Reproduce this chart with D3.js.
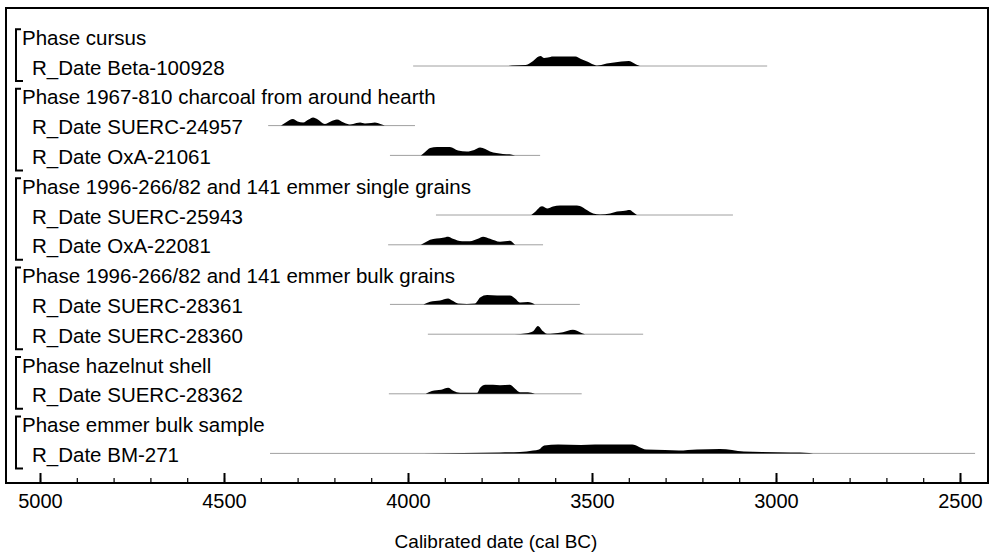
<!DOCTYPE html>
<html>
<head>
<meta charset="utf-8">
<script src="https://cdn.jsdelivr.net/npm/d3@7"></script>
<style>
	body { margin: 0; background: #fff; }
	text { font-family: "Liberation Sans", Arial, sans-serif; fill: #000; }
</style>
</head>
<body>
<div id="svg"></div>
<script>
// ------------------------------------------------------
// Size of the page
const width = 990
const height = 556

// ------------------------------------------------------
// Data

// Row labels, top to bottom
const labels = [
	'Phase cursus',
	'R_Date Beta-100928',
	'Phase 1967-810 charcoal from around hearth',
	'R_Date SUERC-24957',
	'R_Date OxA-21061',
	'Phase 1996-266/82 and 141 emmer single grains',
	'R_Date SUERC-25943',
	'R_Date OxA-22081',
	'Phase 1996-266/82 and 141 emmer bulk grains',
	'R_Date SUERC-28361',
	'R_Date SUERC-28360',
	'Phase hazelnut shell',
	'R_Date SUERC-28362',
	'Phase emmer bulk sample',
	'R_Date BM-271'
]

// Which rows start a phase, and the last row each phase covers
const phaseStarts = [0, 2, 5, 8, 11, 13]
const phaseEnds = [1, 4, 7, 10, 12, 14]

// Extent of the unmodelled likelihood (cal BC) for each R_Date row
const likelihoodRanges = [
	[1, 3986, 3024],
	[3, 4380, 3981],
	[4, 4049, 3641],
	[6, 3924, 3117],
	[7, 4054, 3633],
	[9, 4049, 3533],
	[10, 3946, 3361],
	[12, 4052, 3528],
	[14, 4375, 2459]
]

// Posterior distributions: [cal BC, relative probability]
const beta100928 = [[3730, 0], [3717, 0.05], [3680, 0.1], [3660, 0.5], [3645, 0.95], [3640, 1.0], [3630, 0.8], [3620, 0.85], [3606, 0.95], [3575, 0.95], [3545, 0.95], [3530, 0.7], [3510, 0.4], [3500, 0.2], [3485, 0.05], [3475, 0.1], [3460, 0.25], [3440, 0.35], [3420, 0.45], [3400, 0.5], [3392, 0.4], [3380, 0.15], [3370, 0]]
const suerc24957 = [[4345, 0], [4330, 0.35], [4313, 0.65], [4300, 0.4], [4285, 0.3], [4270, 0.6], [4258, 0.8], [4245, 0.6], [4226, 0.15], [4210, 0.4], [4193, 0.6], [4175, 0.3], [4158, 0.1], [4140, 0.25], [4130, 0.3], [4117, 0.2], [4100, 0.25], [4090, 0.3], [4075, 0.15], [4063, 0]]
const oxa21061 = [[3965, 0], [3955, 0.3], [3940, 0.75], [3921, 0.85], [3900, 0.85], [3886, 0.85], [3864, 0.5], [3840, 0.4], [3820, 0.55], [3804, 0.8], [3790, 0.65], [3777, 0.4], [3760, 0.25], [3742, 0.15], [3720, 0.1], [3709, 0]]
const suerc25943 = [[3665, 0], [3655, 0.3], [3636, 0.87], [3622, 0.65], [3606, 0.85], [3587, 0.95], [3541, 0.95], [3533, 0.9], [3514, 0.5], [3497, 0.15], [3478, 0.05], [3451, 0.15], [3432, 0.35], [3416, 0.4], [3397, 0.5], [3389, 0.3], [3378, 0]]
const oxa22081 = [[3965, 0], [3950, 0.3], [3940, 0.5], [3905, 0.7], [3891, 0.8], [3878, 0.6], [3853, 0.35], [3832, 0.35], [3810, 0.6], [3796, 0.8], [3777, 0.6], [3750, 0.3], [3723, 0.4], [3712, 0.1], [3709, 0]]
const suerc28361 = [[3958, 0], [3940, 0.27], [3913, 0.4], [3891, 0.6], [3880, 0.4], [3864, 0.1], [3840, 0.05], [3818, 0.1], [3804, 0.7], [3785, 0.95], [3758, 0.9], [3723, 0.9], [3709, 0.6], [3696, 0.2], [3674, 0.25], [3655, 0]]
const suerc28360 = [[3710, 0], [3677, 0.1], [3660, 0.3], [3647, 0.83], [3633, 0.3], [3622, 0.05], [3606, 0.08], [3579, 0.2], [3552, 0.45], [3541, 0.35], [3527, 0.1], [3519, 0]]
const suerc28362 = [[3952, 0], [3935, 0.27], [3910, 0.4], [3891, 0.6], [3877, 0.3], [3858, 0.1], [3812, 0.1], [3804, 0.6], [3790, 0.9], [3769, 0.9], [3750, 0.85], [3723, 0.9], [3709, 0.5], [3696, 0.15], [3674, 0.15], [3655, 0]]
const bm271 = [[3960, 0], [3850, 0.05], [3750, 0.1], [3696, 0.15], [3660, 0.3], [3644, 0.4], [3630, 0.8], [3592, 0.9], [3530, 0.85], [3492, 0.9], [3391, 0.9], [3353, 0.4], [3302, 0.35], [3264, 0.3], [3215, 0.4], [3152, 0.45], [3087, 0.2], [3038, 0.15], [2960, 0.08], [2910, 0.05], [2899, 0]]

// Row index for each posterior
const posteriors = [
	[1, beta100928],
	[3, suerc24957],
	[4, oxa21061],
	[6, suerc25943],
	[7, oxa22081],
	[9, suerc28361],
	[10, suerc28360],
	[12, suerc28362],
	[14, bm271]
]

// Axis ticks
const majorTicks = [5000, 4500, 4000, 3500, 3000, 2500]
const minorTicks = d3.range(5000, 2400, -100)

const axisTitle = 'Calibrated date (cal BC)'

// ------------------------------------------------------
// Scales

const xScale = d3.scaleLinear()
	.domain([5000, 2500])
	.range([40, 960])

const rowScale = d3.scaleLinear()
	.domain([0, labels.length - 1])
	.range([36.2, 453.4])

const probScale = d3.scaleLinear()
	.domain([0, 1])
	.range([0, 10])

// ------------------------------------------------------
// Draw

const svg = d3.select('#svg')
	.append('svg')
	.attr('width', width)
	.attr('height', height)

svg.append('rect')
	.attr('width', width)
	.attr('height', height)
	.attr('fill', '#fff')

// Frame round the plot
svg.append('rect')
	.attr('x', 6)
	.attr('y', 8)
	.attr('width', 982)
	.attr('height', 475)
	.attr('fill', 'none')
	.attr('stroke', '#000')
	.attr('stroke-width', 2)

// Phase brackets
svg.selectAll('.bracket')
	.data(phaseStarts)
	.enter()
	.append('path')
	.attr('class', 'bracket')
	.attr('d', (d, i) => {
		const top = rowScale(d) - 7
		const bottom = rowScale(phaseEnds[i]) + 15
		return `M21,${top}H16V${bottom}H23`
	})
	.attr('fill', 'none')
	.attr('stroke', '#000')
	.attr('stroke-width', 2)

// Row labels
svg.selectAll('.label')
	.data(labels)
	.enter()
	.append('text')
	.attr('class', 'label')
	.attr('x', (d, i) => phaseStarts.includes(i) ? 22 : 32)
	.attr('y', (d, i) => rowScale(i) + 8.5)
	.attr('font-size', 20.5)
	.text(d => d)

// Likelihood lines
svg.selectAll('.likelihood')
	.data(likelihoodRanges)
	.enter()
	.append('line')
	.attr('class', 'likelihood')
	.attr('x1', d => xScale(d[1]))
	.attr('x2', d => xScale(d[2]))
	.attr('y1', d => rowScale(d[0]))
	.attr('y2', d => rowScale(d[0]))
	.attr('stroke', '#a0a0a0')
	.attr('stroke-width', 1)

// Posterior distributions
const area = d3.area()
	.x(d => xScale(d[0]))
	.y0(0)
	.y1(d => -probScale(d[1]))
	.curve(d3.curveMonotoneX)

svg.selectAll('.posterior')
	.data(posteriors)
	.enter()
	.append('path')
	.attr('class', 'posterior')
	.attr('transform', d => `translate(0,${rowScale(d[0])})`)
	.attr('d', d => area(d[1]))
	.attr('fill', '#000')

// Axis: minor ticks, then major ticks with labels
const axisY = 483

svg.append('g')
	.attr('transform', `translate(0,${axisY})`)
	.call(d3.axisBottom(xScale)
		.tickValues(minorTicks)
		.tickSize(-5)
		.tickFormat(''))
	.call(g => g.select('.domain').remove())
	.call(g => g.selectAll('line').attr('stroke-width', 1.2))

svg.append('g')
	.attr('transform', `translate(0,${axisY})`)
	.call(d3.axisBottom(xScale)
		.tickValues(majorTicks)
		.tickSize(-10)
		.tickPadding(11)
		.tickFormat(d3.format('d')))
	.call(g => g.select('.domain').remove())
	.call(g => g.selectAll('line').attr('stroke-width', 2))
	.call(g => g.selectAll('text')
		.attr('font-size', 20)
		.attr('font-family', '"Liberation Sans", Arial, sans-serif'))

// Axis title
svg.append('text')
	.attr('x', 496)
	.attr('y', 548)
	.attr('text-anchor', 'middle')
	.attr('font-size', 19)
	.text(axisTitle)
</script>
</body>
</html>
